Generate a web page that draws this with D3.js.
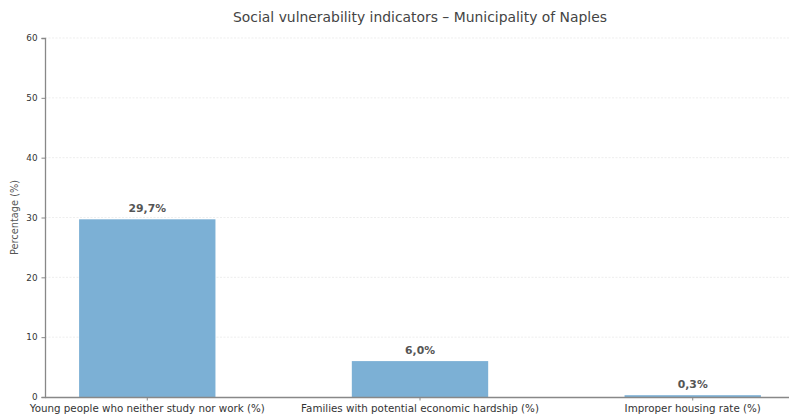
<!DOCTYPE html>
<html>
<head>
<meta charset="utf-8">
<script src="https://cdn.jsdelivr.net/npm/d3@7"></script>
<style>
  html, body { margin: 0; padding: 0; background: #fff; }
  svg { display: block; font-family: "DejaVu Sans", sans-serif; }
</style>
</head>
<body>
<svg id="chart" width="789" height="417"></svg>
<script>
// Indicator categories and their values (%)
const categories = [
  "Young people who neither study nor work (%)",
  "Families with potential economic hardship (%)",
  "Improper housing rate (%)"
];
const values = [29.7, 6.0, 0.3];
const valueLabels = ["29,7%", "6,0%", "0,3%"];
const yTicks = [0, 10, 20, 30, 40, 50, 60];

const titleText = "Social vulnerability indicators \u2013 Municipality of Naples";
const yAxisTitle = "Percentage (%)";

const svg = d3.select("#chart");
const plotLeft = 45, plotRight = 795, plotTop = 38, plotBottom = 397;

const x = d3.scaleBand()
  .domain(categories)
  .range([plotLeft, plotRight])
  .paddingInner(0.5)
  .paddingOuter(0.125);

const y = d3.scaleLinear().domain([0, 60]).range([plotBottom, plotTop]);

// horizontal grid
svg.append("g")
  .selectAll("line")
  .data(yTicks.filter(d => d > 0))
  .join("line")
  .attr("x1", plotLeft).attr("x2", plotRight)
  .attr("y1", d => y(d)).attr("y2", d => y(d))
  .attr("stroke", "#e6e6e6")
  .attr("stroke-width", 0.7)
  .attr("stroke-dasharray", "2,1.5");

// bars
svg.append("g")
  .selectAll("rect")
  .data(values)
  .join("rect")
  .attr("x", (d, i) => x(categories[i]))
  .attr("width", x.bandwidth())
  .attr("y", d => y(d))
  .attr("height", d => y(0) - y(d))
  .attr("fill", "#7cb0d5");

// value labels
svg.append("g")
  .selectAll("text")
  .data(values)
  .join("text")
  .attr("x", (d, i) => x(categories[i]) + x.bandwidth() / 2)
  .attr("y", d => y(d) - 7)
  .attr("text-anchor", "middle")
  .attr("font-size", "10.8px")
  .attr("font-weight", "bold")
  .attr("fill", "#555")
  .text((d, i) => valueLabels[i]);

// y axis
const yAxis = svg.append("g")
  .attr("transform", `translate(${plotLeft},0)`)
  .call(d3.axisLeft(y).tickValues(yTicks).tickSize(3.5).tickPadding(4));
yAxis.select(".domain").attr("stroke", "#888").attr("stroke-width", 1.3);
yAxis.selectAll(".tick line").attr("stroke", "#888");
yAxis.selectAll(".tick text")
  .attr("font-size", "8.8px")
  .attr("font-family", "DejaVu Sans, sans-serif")
  .attr("fill", "#333");

// x axis
const xAxis = svg.append("g")
  .attr("transform", `translate(0,${plotBottom})`)
  .call(d3.axisBottom(x).tickSize(3.5).tickSizeOuter(0).tickPadding(4.5));
xAxis.select(".domain").attr("stroke", "#888").attr("stroke-width", 1.3);
xAxis.selectAll(".tick line").attr("stroke", "#888");
xAxis.selectAll(".tick text")
  .attr("font-size", "10.3px")
  .attr("font-family", "DejaVu Sans, sans-serif")
  .attr("fill", "#333");

// y axis title
svg.append("text")
  .attr("transform", `translate(18,${(plotTop + plotBottom) / 2}) rotate(-90)`)
  .attr("text-anchor", "middle")
  .attr("font-size", "9.8px")
  .attr("fill", "#555")
  .text(yAxisTitle);

// chart title
svg.append("text")
  .attr("x", (plotLeft + plotRight) / 2)
  .attr("y", 22)
  .attr("text-anchor", "middle")
  .attr("font-size", "13.9px")
  .attr("fill", "#444")
  .text(titleText);
</script>
</body>
</html>
